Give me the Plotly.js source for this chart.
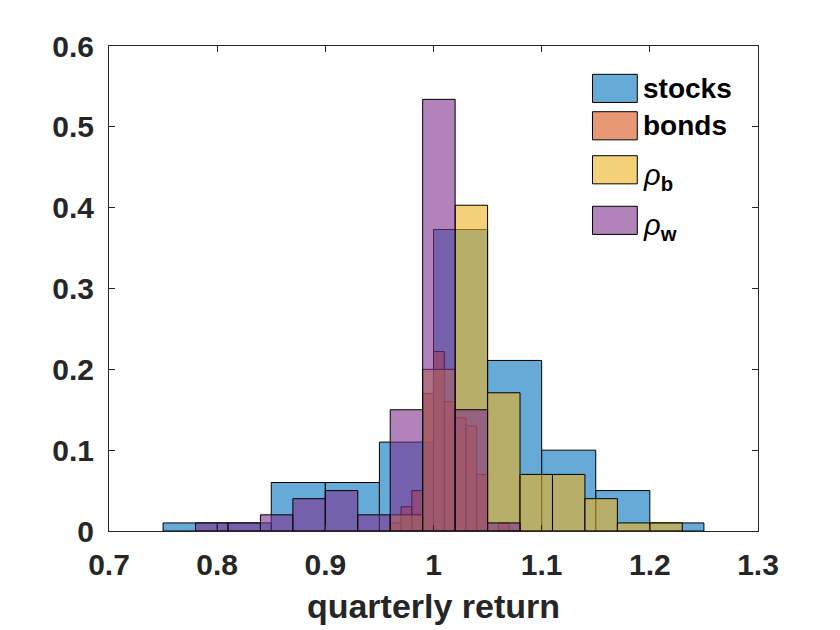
<!DOCTYPE html>
<html>
<head>
<meta charset="utf-8">
<script src="https://cdn.plot.ly/plotly-3.0.1.min.js"></script>
<style>
  body { margin: 0; background: #fff; }
  #hist { width: 840px; height: 630px; }
</style>
</head>
<body>
<div id="hist"></div>
<script>
// bin edges and probabilities
let stocksEdges = [0.75, 0.80, 0.85, 0.90, 0.95, 1.00, 1.05, 1.10, 1.15, 1.20, 1.25];
let stocksProb = [0.01, 0.01, 0.06, 0.06, 0.11, 0.373, 0.211, 0.10, 0.05, 0.01];

let bondsEdges = [0.96, 0.97, 0.98, 0.99, 1.00, 1.01, 1.02, 1.03, 1.04, 1.05, 1.06, 1.07, 1.08];
let bondsProb = [0.01, 0.03, 0.05, 0.17, 0.222, 0.16, 0.14, 0.13, 0.07, 0, 0.01, 0];

let rhoBEdges = [0.96, 0.99, 1.02, 1.05, 1.08, 1.11, 1.14, 1.17, 1.20, 1.23];
let rhoBProb = [0.02, 0.20, 0.403, 0.171, 0.07, 0.07, 0.04, 0.01, 0.01];

let rhoWEdges = [0.78, 0.81, 0.84, 0.87, 0.90, 0.93, 0.96, 0.99, 1.02, 1.05, 1.08];
let rhoWProb = [0.01, 0.01, 0.02, 0.04, 0.05, 0.02, 0.15, 0.534, 0.15, 0.01];

let seriesNames = ['stocks', 'bonds', '<i>\u03c1</i><sub><b>b</b></sub>', '<i>\u03c1</i><sub><b>w</b></sub>'];
let seriesColors = ['rgba(0,114,189,0.6)', 'rgba(217,83,25,0.6)', 'rgba(237,177,32,0.6)', 'rgba(126,47,142,0.6)'];

// turn edges + probabilities into a bar trace (MATLAB-like histogram)
function histTrace(edges, prob, color) {
    let centers = prob.map((p, i) => (edges[i] + edges[i + 1]) / 2);
    let widths = prob.map((p, i) => edges[i + 1] - edges[i]);
    return {
        type: 'bar',
        x: centers,
        y: prob,
        width: widths,
        marker: { color: color, line: { color: '#000000', width: 1 } },
        showlegend: false,
        hoverinfo: 'x+y'
    };
}

let traces = [
    histTrace(stocksEdges, stocksProb, seriesColors[0]),
    histTrace(bondsEdges, bondsProb, seriesColors[1]),
    histTrace(rhoBEdges, rhoBProb, seriesColors[2]),
    histTrace(rhoWEdges, rhoWProb, seriesColors[3])
];

// hand-drawn legend, boxes like MATLAB's
let legendTops = [0.9416, 0.8645, 0.7738, 0.6695];
let shapes = [];
let annotations = [];
seriesNames.forEach((name, i) => {
    shapes.push({
        type: 'rect', xref: 'paper', yref: 'paper',
        x0: 0.745, x1: 0.814, y0: legendTops[i] - 0.058, y1: legendTops[i],
        fillcolor: seriesColors[i], line: { color: '#000000', width: 1 }
    });
    let isGreek = i >= 2;
    annotations.push({
        xref: 'paper', yref: 'paper', x: 0.819, y: legendTops[i] - 0.029 - (isGreek ? 0.014 : 0),
        xanchor: 'left', yanchor: 'middle', showarrow: false,
        text: isGreek ? name : '<b>' + name + '</b>',
        font: { family: 'Liberation Sans, Arial, sans-serif', size: isGreek ? 29 : 28, color: '#000000' }
    });
});

let axisFont = { family: 'Liberation Sans, Arial, sans-serif', size: 30, color: '#262626', weight: 'bold' };

let layout = {
    width: 840,
    height: 630,
    margin: { l: 109, r: 82, t: 46, b: 99 },
    paper_bgcolor: '#ffffff',
    plot_bgcolor: '#ffffff',
    barmode: 'overlay',
    bargap: 0,
    showlegend: false,
    xaxis: {
        range: [0.7, 1.3],
        dtick: 0.1,
        tick0: 0.7,
        ticks: 'inside',
        ticklen: 6,
        tickcolor: '#262626',
        showline: true,
        linecolor: '#262626',
        linewidth: 1,
        mirror: 'ticks',
        showgrid: false,
        zeroline: false,
        tickfont: axisFont,
        ticklabelstandoff: 7,
        title: {
            text: 'quarterly return',
            font: { family: 'Liberation Sans, Arial, sans-serif', size: 34, color: '#262626', weight: 'bold' },
            standoff: 14
        }
    },
    yaxis: {
        range: [0, 0.6],
        dtick: 0.1,
        ticks: 'inside',
        ticklen: 6,
        tickcolor: '#262626',
        showline: true,
        linecolor: '#262626',
        linewidth: 1,
        mirror: 'ticks',
        showgrid: false,
        zeroline: false,
        tickfont: axisFont,
        ticklabelstandoff: 8
    },
    shapes: shapes,
    annotations: annotations
};

Plotly.newPlot('hist', traces, layout, { displayModeBar: false, staticPlot: true });
</script>
</body>
</html>
